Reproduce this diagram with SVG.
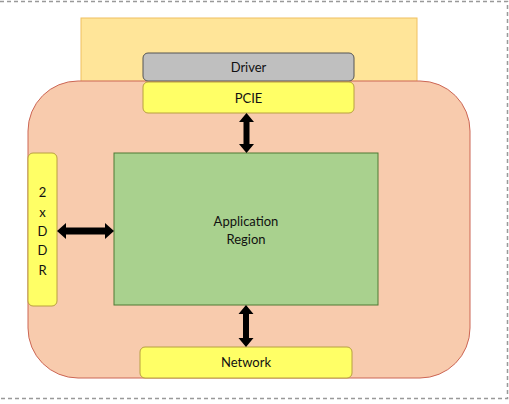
<svg xmlns="http://www.w3.org/2000/svg" width="509" height="404" viewBox="0 0 509 404">
<style>
text{font-family:Lato,"Open Sans","Liberation Sans",sans-serif;font-size:13px;fill:#111;text-anchor:middle;dominant-baseline:central}
.y{fill:#ffff66;stroke:#b8a040;stroke-width:1}
.arr{fill:#000}
</style>
<rect x="0" y="0" width="509" height="404" fill="#fff"/>
<path d="M0 1.5H507.5V398.5H0" fill="none" stroke="#999" stroke-width="1.5" stroke-dasharray="4 3"/>
<g id="host"><rect x="81" y="18" width="336" height="66" fill="#ffe599" stroke="#f0c060" stroke-width="1"/></g>
<g id="fpga"><rect x="28" y="81" width="442" height="297" rx="50" ry="50" fill="#f8cbad" stroke="#cc6655" stroke-width="1"/></g>
<g id="driver"><rect x="143" y="53" width="211" height="28" rx="5" fill="#bfbfbf" stroke="#555" stroke-width="1"/><text x="248.5" y="67">Driver</text></g>
<g id="pcie"><rect class="y" x="143" y="82" width="211" height="31" rx="5"/><text x="248.5" y="98">PCIE</text></g>
<g id="ddr"><rect class="y" x="28" y="153" width="29" height="153" rx="5"/>
<text x="42.5" y="192">2</text><text x="42.5" y="212">x</text><text x="42.5" y="231">D</text><text x="42.5" y="250">D</text><text x="42.5" y="270">R</text></g>
<g id="app"><rect x="114" y="153" width="264" height="152" fill="#a9d18e" stroke="#4f7a34" stroke-width="1"/><text x="246" y="221">Application</text><text x="246" y="239">Region</text></g>
<g id="network"><rect class="y" x="140" y="347" width="212" height="31" rx="5"/><text x="246" y="362">Network</text></g>
<g id="connectors">
<path class="arr" d="M246.5 113L254 122H249.5V144H254L246.5 153L239 144H243.5V122H239Z"/>
<path class="arr" d="M246 305L253.5 314H249V338H253.5L246 347L238.5 338H243V314H238.5Z"/>
<path class="arr" d="M57 231L66 223V227.5H105V223L114 231L105 239V234.5H66V239Z"/>
</g>
</svg>
